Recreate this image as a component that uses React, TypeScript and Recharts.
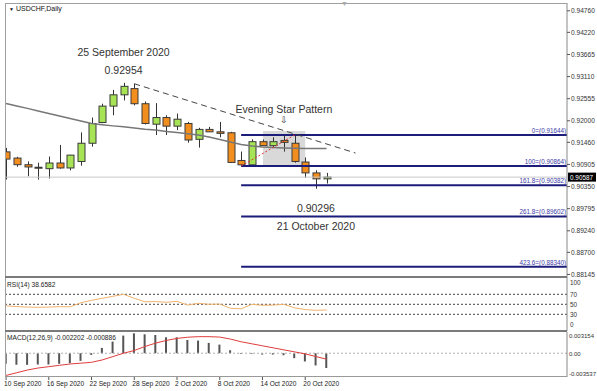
import React from "react";
import {
  ComposedChart,
  Bar,
  Line,
  XAxis,
  YAxis,
  ReferenceLine,
  ReferenceArea,
  ReferenceDot,
} from "recharts";

// USDCHF daily candles, 10 Sep - 22 Oct 2020
const dates = [
  "10 Sep 2020", "11 Sep 2020", "14 Sep 2020", "15 Sep 2020", "16 Sep 2020",
  "17 Sep 2020", "18 Sep 2020", "21 Sep 2020", "22 Sep 2020", "23 Sep 2020",
  "24 Sep 2020", "25 Sep 2020", "28 Sep 2020", "29 Sep 2020", "30 Sep 2020",
  "1 Oct 2020", "2 Oct 2020", "5 Oct 2020", "6 Oct 2020", "7 Oct 2020",
  "8 Oct 2020", "9 Oct 2020", "12 Oct 2020", "13 Oct 2020", "14 Oct 2020",
  "15 Oct 2020", "16 Oct 2020", "19 Oct 2020", "20 Oct 2020", "21 Oct 2020",
  "22 Oct 2020",
];

const opens = [
  0.91221, 0.91065, 0.90899, 0.90835, 0.90799, 0.90941, 0.90817, 0.9098,
  0.91437, 0.91958, 0.92369, 0.92652, 0.92808, 0.92429, 0.91915, 0.92082,
  0.91866, 0.91933, 0.91536, 0.91784, 0.91724, 0.917, 0.91005, 0.90895,
  0.91476, 0.91377, 0.91508, 0.91437, 0.90966, 0.90693, 0.90544,
];
const highs = [
  0.9132, 0.91097, 0.9098, 0.90948, 0.91104, 0.91395, 0.91145, 0.9171,
  0.92082, 0.92429, 0.92776, 0.92954, 0.9293, 0.92486, 0.92444, 0.92139,
  0.92181, 0.91972, 0.91824, 0.91848, 0.91972, 0.91724, 0.91228, 0.91536,
  0.9153, 0.91586, 0.91618, 0.91644, 0.9108, 0.9076, 0.90693,
];
const lows = [
  0.90527, 0.90849, 0.90608, 0.90527, 0.90551, 0.90799, 0.90757, 0.90874,
  0.91352, 0.9194, 0.92139, 0.92511, 0.92387, 0.91908, 0.91643, 0.91643,
  0.91767, 0.91452, 0.91328, 0.91717, 0.91586, 0.90941, 0.90864, 0.90864,
  0.9137, 0.9132, 0.91228, 0.90948, 0.90569, 0.90296, 0.90427,
];
const closes = [
  0.9104, 0.90899, 0.90842, 0.9083, 0.90941, 0.90817, 0.91139, 0.91437,
  0.91933, 0.92369, 0.92652, 0.92865, 0.92429, 0.91933, 0.92082, 0.91866,
  0.9204, 0.91519, 0.91784, 0.91724, 0.91685, 0.90956, 0.90895, 0.91476,
  0.91377, 0.91476, 0.91459, 0.9098, 0.90693, 0.90544, 0.90587,
];

// moving average (grey line)
const maValues = [
  0.92436, 0.92374, 0.92312, 0.92245, 0.92183, 0.92121, 0.92059, 0.91995,
  0.91935, 0.91903, 0.91873, 0.91848, 0.91821, 0.91791, 0.91767, 0.91734,
  0.91705, 0.91675, 0.91643, 0.91593, 0.91531, 0.91469, 0.91407, 0.9137,
  0.91345, 0.91328, 0.9132, 0.91313, 0.91308, 0.91308, 0.91308,
];

const rsiValues = [
  47, 45.5, 44.5, 44, 44.5, 45.3, 45, 53, 58, 62, 66, 70, 62, 55, 55.5, 54,
  56, 48.5, 52, 50, 50.5, 42, 41, 50, 48, 48.5, 50, 43, 39.5, 38, 38.66,
];

const macdHist = [
  -0.00158, -0.00173, -0.00173, -0.00168, -0.00168, -0.00158, -0.00148,
  -0.00114, -0.00025, 0.00079, 0.00173, 0.00262, 0.00296, 0.00281, 0.00271,
  0.00237, 0.00237, 0.00197, 0.00188, 0.00153, 0.00128, 0.00044, -0.0001,
  -0.0001, -0.0002, -0.0002, -0.0003, -0.00074, -0.00123, -0.00182,
  -0.002202,
];
const macdSignal = [
  -0.0033, -0.0029, -0.0025, -0.0022, -0.002, -0.0018, -0.0016, -0.00148,
  -0.00135, -0.001, -0.0005, 0.0, 0.0004, 0.001, 0.0015, 0.0019, 0.0022,
  0.00238, 0.00246, 0.00246, 0.0024, 0.0021, 0.0017, 0.0014, 0.0011, 0.0008,
  0.0005, 0.0002, -0.0001, -0.0005, -0.000886,
];

const priceTicks = [
  0.9476, 0.9422, 0.93665, 0.9311, 0.92555, 0.92, 0.9146, 0.90905, 0.9035,
  0.89795, 0.8924, 0.887, 0.88145,
];
const fibLevels = [
  { name: "0", value: 0.91644 },
  { name: "100", value: 0.90864 },
  { name: "161.8", value: 0.90382 },
  { name: "261.8", value: 0.89602 },
  { name: "423.6", value: 0.8834 },
];
const dateTicks = [0, 4, 8, 12, 16, 20, 24, 28];
const rsiTicks = [0, 30, 50, 70, 100];
const macdTicks = [-0.003537, 0, 0.003154];
const bidPrice = 0.90587;

const candles = dates.map((date, i) => ({
  i,
  date,
  open: opens[i],
  high: highs[i],
  low: lows[i],
  close: closes[i],
  ma: maValues[i],
  rsi: rsiValues[i],
  hist: macdHist[i],
  signal: macdSignal[i],
}));

const FONT = '"Liberation Sans", Arial, sans-serif';
const X_DOMAIN: [number, number] = [-0.1, 52.5];
const GREEN = "#a6e455";
const ORANGE = "#f28e1e";

const Candle = (props: any) => {
  const { x, y, width, height, payload } = props;
  const { open, close, high, low } = payload;
  const top = Math.min(y, y + height);
  const h = Math.abs(height);
  const ratio = high === low ? 0 : h / (high - low);
  const yOf = (p: number) => top + (high - p) * ratio;
  const bTop = yOf(Math.max(open, close));
  const bBot = yOf(Math.min(open, close));
  const cx = Math.round(x + width / 2) + 0.5;
  return (
    <g>
      <line x1={cx} x2={cx} y1={top} y2={top + h} stroke="#333" />
      <rect
        x={cx - width / 2}
        y={bTop}
        width={width}
        height={Math.max(bBot - bTop, 1)}
        fill={close >= open ? GREEN : ORANGE}
        stroke="#3a3a3a"
        strokeWidth={1}
      />
    </g>
  );
};

const PriceTick = (p: any) => (
  <text x={p.x} y={p.y} dominantBaseline="central" fontSize={6.6} fill="#333" fontFamily={FONT}>
    {p.payload.value.toFixed(5)}
  </text>
);

const RsiTick = (p: any) => {
  const v = p.payload.value;
  const dy = v === 100 ? 3.4 : v === 0 ? -5 : 0;
  return (
    <text x={p.x - 1} y={p.y + dy} dominantBaseline="central" fontSize={6.4} fill="#333" fontFamily={FONT}>
      {v}
    </text>
  );
};

const MacdTick = (p: any) => {
  const v = p.payload.value;
  const dy = v > 0 ? 3.5 : v < 0 ? -3.5 : 0.5;
  const text = v === 0 ? "0.00" : v.toFixed(6);
  return (
    <text x={p.x - 2} y={p.y + dy} dominantBaseline="central" fontSize={6} fill="#333" fontFamily={FONT}>
      {text}
    </text>
  );
};

const DateTick = (p: any) => (
  <text x={p.x - 2} y={p.y + 3} dominantBaseline="central" fontSize={6.6} fill="#222" fontFamily={FONT}>
    {dates[p.payload.value]}
  </text>
);

const FibLabel = (p: any) => {
  const { viewBox, text } = p;
  return (
    <text
      x={viewBox.x + viewBox.width - 1}
      y={viewBox.y - 2}
      textAnchor="end"
      fontSize={6.3}
      fill="#3a3aa8"
      fontFamily={FONT}
    >
      {text}
    </text>
  );
};

const BidLabel = (p: any) => {
  const { viewBox } = p;
  const x = viewBox.x + viewBox.width + 1;
  return (
    <g>
      <rect x={x} y={viewBox.y - 4.5} width={28} height={9} fill="#000" />
      <text x={x + 2} y={viewBox.y} dominantBaseline="central" fontSize={6.4} fill="#fff" fontFamily={FONT}>
        {bidPrice.toFixed(5)}
      </text>
    </g>
  );
};

const Annot = (p: any) => {
  const { viewBox, lines } = p;
  return (
    <g>
      {lines.map((l: { text: string; dy: number; size?: number }) => (
        <text
          key={l.text}
          x={viewBox.x}
          y={viewBox.y + l.dy}
          textAnchor="middle"
          dominantBaseline="central"
          fontSize={l.size || 10.5}
          fill="#333"
          fontFamily={FONT}
        >
          {l.text}
        </text>
      ))}
    </g>
  );
};

const line = (style: React.CSSProperties) => (
  <div style={{ position: "absolute", pointerEvents: "none", ...style }} />
);

export default function App() {
  return (
    <div
      style={{
        position: "absolute",
        left: 0,
        top: 0,
        width: 597,
        height: 391,
        background: "#fff",
        fontFamily: FONT,
        overflow: "hidden",
      }}
    >
      {/* main price panel */}
      <div style={{ position: "absolute", left: 0, top: 0 }}>
        <ComposedChart
          width={597}
          height={277}
          data={candles}
          margin={{ top: 3, right: 0, bottom: 0, left: 5 }}
        >
          <XAxis type="number" dataKey="i" domain={X_DOMAIN} hide allowDataOverflow />
          <YAxis
            orientation="right"
            width={30}
            domain={[0.88081, 0.94956]}
            ticks={priceTicks}
            allowDataOverflow
            axisLine={{ stroke: "#888" }}
            tickLine={{ stroke: "#555" }}
            tickSize={3}
            tickMargin={1}
            tick={PriceTick}
            interval={0}
          />
          <ReferenceArea
            x1={24.05}
            x2={28}
            y1={0.90866}
            y2={0.91744}
            fill="#c4c4c4"
            fillOpacity={0.65}
            stroke="none"
          />
          <ReferenceLine y={bidPrice} stroke="#c8c8c8" label={<BidLabel />} />
          <Line
            dataKey="ma"
            stroke="#777"
            strokeWidth={1.5}
            dot={false}
            isAnimationActive={false}
          />
          <Bar
            dataKey={(d: any) => [d.low, d.high]}
            shape={Candle}
            barSize={7}
            isAnimationActive={false}
          />
          {fibLevels.map((f) => (
            <ReferenceLine
              key={f.name}
              segment={[
                { x: 22, y: f.value },
                { x: X_DOMAIN[1], y: f.value },
              ]}
              stroke="#1c1c7a"
              strokeWidth={2}
              label={<FibLabel text={`${f.name}=(${f.value.toFixed(5)})`} />}
            />
          ))}
          <ReferenceLine
            segment={[
              { x: 12, y: 0.9293 },
              { x: 32.7, y: 0.91192 },
            ]}
            stroke="#444"
            strokeDasharray="6 4"
          />
          <ReferenceLine
            segment={[
              { x: 22, y: 0.90864 },
              { x: 27, y: 0.91644 },
            ]}
            stroke="#e03030"
            strokeDasharray="2 2"
          />
          <ReferenceDot
            x={11}
            y={0.92954}
            r={0}
            fill="none"
            stroke="none"
            label={
              <Annot
                lines={[
                  { text: "25 September 2020", dy: -31 },
                  { text: "0.92954", dy: -12.8 },
                ]}
              />
            }
          />
          <ReferenceDot
            x={26}
            y={0.91644}
            r={0}
            fill="none"
            stroke="none"
            label={
              <Annot
                lines={[
                  { text: "Evening Star Pattern", dy: -25.7 },
                  { text: "⇩", dy: -15, size: 9 },
                ]}
              />
            }
          />
          <ReferenceDot
            x={29}
            y={0.90296}
            r={0}
            fill="none"
            stroke="none"
            label={
              <Annot
                lines={[
                  { text: "0.90296", dy: 19.6 },
                  { text: "21 October 2020", dy: 37.6 },
                ]}
              />
            }
          />
        </ComposedChart>
      </div>

      {/* RSI panel */}
      <div style={{ position: "absolute", left: 0, top: 277 }}>
        <ComposedChart
          width={597}
          height={54}
          data={candles}
          margin={{ top: 0, right: 0, bottom: 0, left: 5 }}
        >
          <XAxis type="number" dataKey="i" domain={X_DOMAIN} hide allowDataOverflow />
          <YAxis
            orientation="right"
            width={30}
            domain={[-3.4, 104.6]}
            ticks={rsiTicks}
            allowDataOverflow
            axisLine={{ stroke: "#888" }}
            tickLine={false}
            tickSize={3}
            tickMargin={1}
            tick={RsiTick}
            interval={0}
          />
          {[70, 50, 30].map((v) => (
            <ReferenceLine key={v} y={v} stroke="#444" strokeDasharray="2 2" />
          ))}
          <Line
            dataKey="rsi"
            stroke="#f2b36b"
            strokeWidth={1}
            dot={false}
            isAnimationActive={false}
          />
        </ComposedChart>
      </div>

      {/* MACD panel */}
      <div style={{ position: "absolute", left: 0, top: 331 }}>
        <ComposedChart
          width={597}
          height={60}
          data={candles}
          margin={{ top: 1, right: 0, bottom: 0, left: 5 }}
        >
          <XAxis
            type="number"
            dataKey="i"
            domain={X_DOMAIN}
            allowDataOverflow
            ticks={dateTicks}
            interval={0}
            height={14}
            axisLine={false}
            tickLine={{ stroke: "#555" }}
            tickSize={3}
            tickMargin={0}
            tick={DateTick}
          />
          <YAxis
            orientation="right"
            width={30}
            domain={[-0.003537, 0.003154]}
            ticks={macdTicks}
            allowDataOverflow
            axisLine={{ stroke: "#888" }}
            tickLine={false}
            tickSize={3}
            tickMargin={1}
            tick={MacdTick}
            interval={0}
          />
          <ReferenceLine y={0} stroke="#b0b0b0" strokeDasharray="2 2" />
          <Bar dataKey="hist" fill="#555" barSize={2} isAnimationActive={false} />
          <Line
            dataKey="signal"
            stroke="#e03c3c"
            strokeWidth={1}
            dot={false}
            isAnimationActive={false}
          />
        </ComposedChart>
      </div>

      {/* panel frames */}
      {line({ left: 5, top: 3, width: 562, height: 1, background: "#a0a0a0" })}
      {line({ left: 5, top: 3, width: 1, height: 374, background: "#a0a0a0" })}
      {line({ left: 5, top: 276, width: 562, height: 2, background: "#7a7a7a" })}
      {line({ left: 5, top: 330, width: 562, height: 2, background: "#7a7a7a" })}
      {line({ left: 5, top: 376, width: 562, height: 1, background: "#999" })}

      {/* captions */}
      <div
        style={{
          position: "absolute",
          left: 9,
          top: 4,
          fontSize: 7,
          color: "#111",
          lineHeight: "9px",
          whiteSpace: "nowrap",
        }}
      >
        <span style={{ fontSize: 5, marginRight: 2 }}>▼</span>USDCHF,Daily
      </div>
      <div
        style={{
          position: "absolute",
          left: 341,
          top: 0,
          fontSize: 7,
          color: "#aaa",
          lineHeight: "8px",
        }}
      >
        ▼
      </div>
      <div
        style={{
          position: "absolute",
          left: 7,
          top: 281,
          fontSize: 6.6,
          color: "#222",
          lineHeight: "8px",
          whiteSpace: "nowrap",
        }}
      >
        RSI(14) 38.6582
      </div>
      <div
        style={{
          position: "absolute",
          left: 7,
          top: 334,
          fontSize: 6.6,
          color: "#222",
          lineHeight: "8px",
          whiteSpace: "nowrap",
        }}
      >
        MACD(12,26,9) -0.002202 -0.000886
      </div>
    </div>
  );
}
